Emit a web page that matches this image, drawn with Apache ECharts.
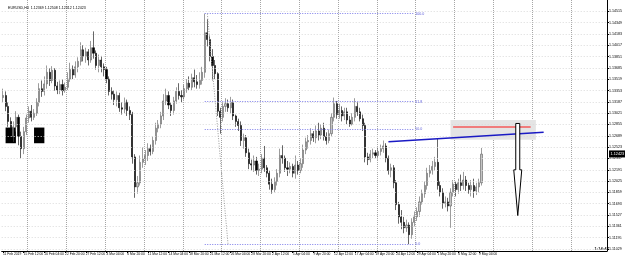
<!DOCTYPE html>
<html><head><meta charset="utf-8">
<script src="https://cdn.jsdelivr.net/npm/echarts@6/dist/echarts.min.js"></script>
<style>html,body{margin:0;padding:0;background:#fff}#c{width:625px;height:259px}</style>
</head><body><div id="c"></div>
<script>
const headerText = 'EURUSD,H4  1.12369 1.12508 1.12312 1.12423';
const dateLabels = ['11 Feb 2019','15 Feb 12:00','20 Feb 04:00','22 Feb 20:00','27 Feb 12:00','4 Mar 04:00','6 Mar 20:00','11 Mar 12:00','14 Mar 04:00','18 Mar 20:00','21 Mar 12:00','26 Mar 04:00','28 Mar 20:00','2 Apr 12:00','5 Apr 04:00','9 Apr 20:00','12 Apr 12:00','17 Apr 04:00','19 Apr 20:00','24 Apr 12:00','29 Apr 04:00','1 May 20:00','6 May 12:00','9 May 04:00'];
const priceTicks = [1.11029,1.11195,1.11361,1.11527,1.11693,1.11859,1.12025,1.12191,1.12357,1.12523,1.12689,1.12855,1.13021,1.13187,1.13353,1.13519,1.13685,1.13851,1.14017,1.14183,1.14349,1.14515];
// [open, close, low, high]
const ohlc = [
[1.1325,1.1328,1.1318,1.1338],[1.1328,1.1312,1.1305,1.1334],[1.1312,1.1290,1.1282,1.1318],[1.1290,1.1268,1.1262,1.1296],
[1.1268,1.1282,1.1260,1.1290],[1.1282,1.1296,1.1275,1.1305],[1.1296,1.1268,1.1255,1.1300],[1.1268,1.1250,1.1236,1.1275],
[1.1250,1.1275,1.1242,1.1282],[1.1275,1.1295,1.1270,1.1300],[1.1295,1.1305,1.1288,1.1312],[1.1305,1.1296,1.1290,1.1314],
[1.1296,1.1302,1.1292,1.1308],[1.1302,1.1318,1.1298,1.1324],[1.1318,1.1338,1.1312,1.1346],[1.1338,1.1334,1.1326,1.1350],
[1.1334,1.1345,1.1328,1.1356],[1.1345,1.1362,1.1338,1.1372],[1.1362,1.1350,1.1342,1.1368],[1.1350,1.1365,1.1346,1.1371],
[1.1365,1.1342,1.1335,1.1368],[1.1342,1.1336,1.1330,1.1348],[1.1336,1.1344,1.1330,1.1350],[1.1344,1.1335,1.1328,1.1352],
[1.1335,1.1340,1.1332,1.1347],[1.1340,1.1352,1.1336,1.1362],[1.1352,1.1366,1.1348,1.1376],[1.1366,1.1358,1.1352,1.1372],
[1.1358,1.1370,1.1354,1.1378],[1.1370,1.1378,1.1362,1.1384],[1.1378,1.1395,1.1372,1.1406],[1.1395,1.1385,1.1378,1.1402],
[1.1385,1.1392,1.1376,1.1398],[1.1392,1.1380,1.1372,1.1396],[1.1380,1.1398,1.1376,1.1408],[1.1398,1.1390,1.1382,1.1422],
[1.1390,1.1372,1.1366,1.1394],[1.1372,1.1380,1.1362,1.1388],[1.1380,1.1370,1.1362,1.1386],[1.1370,1.1366,1.1356,1.1375],
[1.1366,1.1352,1.1346,1.1370],[1.1352,1.1334,1.1328,1.1356],[1.1334,1.1330,1.1322,1.1340],[1.1330,1.1322,1.1314,1.1336],
[1.1322,1.1328,1.1312,1.1334],[1.1328,1.1310,1.1304,1.1332],[1.1310,1.1308,1.1300,1.1318],[1.1308,1.1318,1.1302,1.1325],
[1.1318,1.1306,1.1298,1.1322],[1.1306,1.1300,1.1292,1.1312],[1.1300,1.1238,1.1228,1.1304],[1.1238,1.1194,1.1178,1.1242],
[1.1194,1.1200,1.1184,1.1210],[1.1200,1.1230,1.1196,1.1240],[1.1230,1.1235,1.1222,1.1252],[1.1235,1.1240,1.1226,1.1248],
[1.1240,1.1250,1.1232,1.1258],[1.1250,1.1246,1.1240,1.1256],[1.1246,1.1262,1.1242,1.1268],[1.1262,1.1280,1.1256,1.1288],
[1.1280,1.1286,1.1274,1.1292],[1.1286,1.1298,1.1280,1.1304],[1.1298,1.1320,1.1292,1.1330],[1.1320,1.1328,1.1314,1.1338],
[1.1328,1.1314,1.1308,1.1334],[1.1314,1.1306,1.1298,1.1318],[1.1306,1.1320,1.1300,1.1326],[1.1320,1.1334,1.1316,1.1340],
[1.1334,1.1328,1.1322,1.1346],[1.1328,1.1326,1.1318,1.1336],[1.1326,1.1338,1.1322,1.1344],[1.1338,1.1346,1.1332,1.1352],
[1.1346,1.1340,1.1336,1.1356],[1.1340,1.1354,1.1336,1.1360],[1.1354,1.1348,1.1340,1.1366],[1.1348,1.1344,1.1338,1.1358],
[1.1344,1.1350,1.1338,1.1362],[1.1350,1.1362,1.1344,1.1370],[1.1362,1.1420,1.1354,1.1448],[1.1420,1.1410,1.1400,1.1440],
[1.1410,1.1385,1.1378,1.1416],[1.1385,1.1372,1.1350,1.1396],[1.1372,1.1360,1.1352,1.1380],[1.1360,1.1305,1.1298,1.1362],
[1.1305,1.1296,1.1272,1.1310],[1.1296,1.1312,1.1290,1.1318],[1.1312,1.1316,1.1304,1.1324],[1.1316,1.1310,1.1304,1.1322],
[1.1310,1.1318,1.1302,1.1326],[1.1318,1.1298,1.1292,1.1322],[1.1298,1.1290,1.1282,1.1300],[1.1290,1.1284,1.1276,1.1294],
[1.1284,1.1262,1.1254,1.1290],[1.1262,1.1266,1.1250,1.1272],[1.1266,1.1244,1.1238,1.1270],[1.1244,1.1228,1.1220,1.1250],
[1.1228,1.1226,1.1218,1.1234],[1.1226,1.1232,1.1216,1.1240],[1.1232,1.1218,1.1212,1.1238],[1.1218,1.1220,1.1210,1.1228],
[1.1220,1.1236,1.1214,1.1242],[1.1236,1.1222,1.1216,1.1254],[1.1222,1.1214,1.1208,1.1226],[1.1214,1.1198,1.1190,1.1218],
[1.1198,1.1190,1.1184,1.1206],[1.1190,1.1202,1.1186,1.1208],[1.1202,1.1214,1.1196,1.1220],[1.1214,1.1240,1.1208,1.1250],
[1.1240,1.1236,1.1228,1.1255],[1.1236,1.1222,1.1216,1.1240],[1.1222,1.1220,1.1210,1.1232],[1.1220,1.1224,1.1214,1.1230],
[1.1224,1.1214,1.1208,1.1228],[1.1214,1.1226,1.1206,1.1240],[1.1226,1.1218,1.1212,1.1232],[1.1218,1.1228,1.1214,1.1236],
[1.1228,1.1248,1.1222,1.1256],[1.1248,1.1260,1.1242,1.1266],[1.1260,1.1262,1.1250,1.1270],[1.1262,1.1272,1.1256,1.1280],
[1.1272,1.1266,1.1260,1.1276],[1.1266,1.1276,1.1258,1.1284],[1.1276,1.1270,1.1262,1.1288],[1.1270,1.1280,1.1264,1.1286],
[1.1280,1.1268,1.1262,1.1288],[1.1268,1.1262,1.1256,1.1274],[1.1262,1.1272,1.1258,1.1278],[1.1272,1.1296,1.1268,1.1302],
[1.1296,1.1316,1.1290,1.1325],[1.1316,1.1300,1.1294,1.1320],[1.1300,1.1306,1.1294,1.1316],[1.1306,1.1298,1.1290,1.1312],
[1.1298,1.1304,1.1292,1.1310],[1.1304,1.1292,1.1286,1.1310],[1.1292,1.1286,1.1282,1.1298],[1.1286,1.1296,1.1284,1.1302],
[1.1296,1.1312,1.1290,1.1324],[1.1312,1.1304,1.1298,1.1318],[1.1304,1.1294,1.1290,1.1310],[1.1294,1.1284,1.1276,1.1300],
[1.1284,1.1238,1.1230,1.1288],[1.1238,1.1234,1.1226,1.1244],[1.1234,1.1242,1.1230,1.1248],[1.1242,1.1244,1.1236,1.1250],
[1.1244,1.1240,1.1236,1.1248],[1.1240,1.1246,1.1234,1.1252],[1.1246,1.1250,1.1240,1.1256],[1.1250,1.1254,1.1244,1.1262],
[1.1254,1.1236,1.1230,1.1258],[1.1236,1.1218,1.1212,1.1240],[1.1218,1.1222,1.1208,1.1228],[1.1222,1.1200,1.1192,1.1226],
[1.1200,1.1168,1.1160,1.1204],[1.1168,1.1150,1.1140,1.1172],[1.1150,1.1142,1.1132,1.1160],[1.1142,1.1134,1.1126,1.1150],
[1.1134,1.1138,1.1128,1.1146],[1.1138,1.1124,1.1110,1.1142],[1.1124,1.1142,1.1118,1.1148],[1.1142,1.1150,1.1136,1.1158],
[1.1150,1.1158,1.1144,1.1164],[1.1158,1.1172,1.1150,1.1180],[1.1172,1.1184,1.1168,1.1190],[1.1184,1.1196,1.1178,1.1202],
[1.1196,1.1214,1.1190,1.1222],[1.1214,1.1218,1.1208,1.1226],[1.1218,1.1224,1.1212,1.1232],[1.1224,1.1230,1.1218,1.1238],
[1.1230,1.1196,1.1190,1.1265],[1.1196,1.1186,1.1180,1.1202],[1.1186,1.1170,1.1162,1.1192],[1.1170,1.1172,1.1164,1.1180],
[1.1172,1.1166,1.1158,1.1178],[1.1166,1.1186,1.1134,1.1192],[1.1186,1.1198,1.1180,1.1204],[1.1198,1.1190,1.1180,1.1202],
[1.1190,1.1200,1.1184,1.1206],[1.1200,1.1196,1.1188,1.1212],[1.1196,1.1204,1.1190,1.1216],[1.1204,1.1196,1.1188,1.1210],
[1.1196,1.1190,1.1184,1.1200],[1.1190,1.1196,1.1180,1.1204],[1.1196,1.1188,1.1178,1.1206],[1.1188,1.1194,1.1182,1.1200],
[1.1194,1.1200,1.1186,1.1206],[1.1200,1.1242,1.1196,1.1251]
];
const totalSlots = 234;
const fibPrices = [1.1448, 1.1319, 1.1279, 1.1110];
const fibNames = ['100.0', '61.8', '50.0', '0.0'];
const fibSpan = [78, 159];
const fibDiagonal = [[79, 1.1448], [87, 1.1110]];
const trendLine = [[149, 1.1260], [209, 1.1274]];
const zoneBox = [[173, 1.1292], [206, 1.1263]];
const redLine = [[174, 1.1282], [204, 1.1282]];
const arrowData = [[199, 1.1287, 1.1219, 1.1152]];
const blackBoxes = [[[1, 1.1281], [5, 1.1258]], [[12, 1.1281], [16, 1.1258]]];
const currentPrice = 1.12423;
const timerText = '1:14:47';

const FONT = '"Liberation Sans", Arial, sans-serif';
const cats = Array.from({length: totalSlots}, (_, i) => (i % 8 === 0 && dateLabels[i / 8]) ? dateLabels[i / 8] : '#' + i);

const chart = echarts.init(document.getElementById('c'), null, {renderer: 'canvas', width: 625, height: 259});

const fibLines = fibPrices.map((p, k) => [
  {coord: [fibSpan[0], p], lineStyle: {color: '#7b7be8', type: [1, 1.5], width: 1},
   label: {show: true, position: 'end', formatter: fibNames[k], fontSize: 3.6, color: '#5a5ad8', distance: 1, fontFamily: FONT}},
  {coord: [fibSpan[1], p]}
]);

const option = {
  animation: false,
  backgroundColor: '#ffffff',
  textStyle: {fontFamily: FONT},
  title: {text: headerText, left: 3, top: 1, textStyle: {fontSize: 3.6, fontWeight: 'normal', color: '#000', fontFamily: FONT}},
  grid: {left: 0, right: 15, top: 0, bottom: 8},
  xAxis: {
    type: 'category', data: cats, boundaryGap: true,
    axisLine: {lineStyle: {color: '#000', width: 1}},
    axisTick: {show: true, interval: idx => idx % 8 === 0 && idx < dateLabels.length * 8, alignWithLabel: true, length: 2, lineStyle: {color: '#000'}},
    axisLabel: {interval: 7, align: 'left', fontSize: 3.3, color: '#000', margin: 2, fontFamily: FONT,
      formatter: v => v.charAt(0) === '#' ? '' : v},
    splitLine: {show: true, interval: idx => idx % 15 === 10, lineStyle: {color: '#a6a6a6', type: [1, 1], width: 1}}
  },
  yAxis: {
    type: 'value', position: 'right', min: 1.1100, max: 1.1468,
    axisLine: {show: true, lineStyle: {color: '#000'}},
    axisTick: {show: true, length: 2, customValues: priceTicks, lineStyle: {color: '#000'}},
    axisLabel: {customValues: priceTicks, fontSize: 3.6, color: '#000', margin: 2, fontFamily: FONT, formatter: v => v.toFixed(5)},
    splitLine: {show: false}
  },
  graphic: [{type: 'text', right: 16, bottom: 8, style: {text: timerText, fontSize: 4.2, fontWeight: 'bold', fill: '#222', fontFamily: FONT}}],
  series: [
    {
      type: 'line', data: [], z: 1, silent: true,
      markLine: {silent: true, precision: 6, symbol: ['none', 'none'], animation: false, label: {show: false},
        lineStyle: {color: '#dadada', type: [1, 2], width: 1},
        data: [
          ...priceTicks.map(v => ({yAxis: v})),
          {yAxis: currentPrice, lineStyle: {color: 'rgba(0,0,0,0)', width: 0.1},
           label: {show: true, position: 'end', formatter: currentPrice.toFixed(5), backgroundColor: '#000', color: '#fff',
             fontSize: 3.8, padding: [1.5, 1.5], distance: 2, fontFamily: FONT}}
        ]}
    },
    {
      type: 'candlestick', data: ohlc, z: 3, barWidth: 1.6,
      itemStyle: {color: '#c4c4c4', color0: '#000000', borderColor: '#5a5a5a', borderColor0: '#000000', borderWidth: 0.6},
      markArea: {silent: true, animation: false,
        data: [
          [{coord: zoneBox[0], itemStyle: {color: '#e4e4e4'}}, {coord: zoneBox[1]}],
          ...blackBoxes.map(b => [{coord: b[0], itemStyle: {color: '#000000'}}, {coord: b[1]}])
        ]},
      markLine: {silent: true, precision: 6, symbol: ['none', 'none'], animation: false, label: {show: false},
        data: [
          ...fibLines,
          [{coord: fibDiagonal[0], lineStyle: {color: '#9a9a9a', type: [1, 1.5], width: 1}}, {coord: fibDiagonal[1]}],
          [{coord: trendLine[0], lineStyle: {color: '#1a1ac4', type: 'solid', width: 1.5}}, {coord: trendLine[1]}],
          [{coord: redLine[0], lineStyle: {color: '#f07c7c', type: 'solid', width: 2}}, {coord: redLine[1]}]
        ]}
    },
    {
      type: 'custom', data: arrowData, z: 6, silent: true,
      encode: {x: 0, y: [1, 2, 3]},
      renderItem: (params, api) => {
        const i = api.value(0);
        const a = api.coord([i, api.value(1)]);
        const n = api.coord([i, api.value(2)]);
        const t = api.coord([i, api.value(3)]);
        const x = a[0];
        return {type: 'polygon', shape: {points: [[x - 2, a[1]], [x + 2, a[1]], [x + 2, n[1]], [x + 4, n[1]], [x, t[1]], [x - 4, n[1]], [x - 2, n[1]]]},
          style: {fill: '#ffffff', stroke: '#000000', lineWidth: 1}};
      }
    }
  ]
};
chart.setOption(option);
</script>
</body></html>
